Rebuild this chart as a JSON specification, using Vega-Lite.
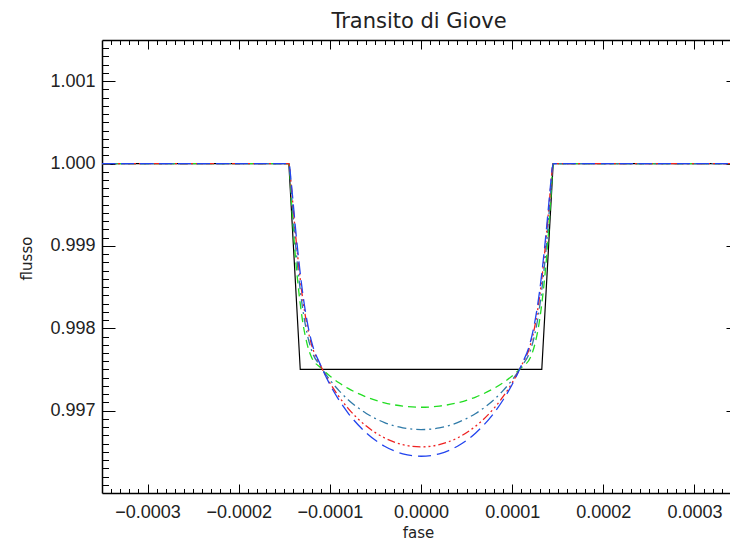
{
  "$schema": "https://vega.github.io/schema/vega-lite/v6.json",
  "width": 628,
  "height": 453,
  "autosize": {"type": "none"},
  "padding": {"left": 102, "top": 40, "right": 0, "bottom": 48},
  "background": "white",
  "title": {"text": "Transito di Giove", "anchor": "middle", "frame": "group", "font": "DejaVu Sans", "fontSize": 21, "fontWeight": "normal", "color": "#222222", "offset": 8, "dx": 3},
  "config": {
    "view": {"stroke": null},
    "axis": {"grid": false, "domainColor": "#000000", "domainWidth": 1.5, "tickColor": "#000000", "tickWidth": 1, "labelFont": "Liberation Sans", "labelFontSize": 18, "labelColor": "#222222", "titleFont": "DejaVu Sans", "titleFontSize": 15, "titleFontWeight": "normal", "titleColor": "#222222"}
  },
  "resolve": {"axis": {"x": "independent", "y": "independent"}},
  "datasets": {
    "nero": [
      {"x": -0.00035, "y": 1}, {"x": -0.000145, "y": 1}, {"x": -0.0001325, "y": 0.9975},
      {"x": 0.0001325, "y": 0.9975}, {"x": 0.000145, "y": 1}, {"x": 0.00035, "y": 1}
    ],
    "curve": [
      {"s": "verde", "x": -0.00035, "y": 1}, {"s": "verde", "x": -0.000145, "y": 1}, {"s": "verde", "x": -0.0001425, "y": 0.999596}, {"s": "verde", "x": -0.00014, "y": 0.999185}, {"s": "verde", "x": -0.0001375, "y": 0.998829}, {"s": "verde", "x": -0.000135, "y": 0.998541}, {"s": "verde", "x": -0.00013, "y": 0.998093}, {"s": "verde", "x": -0.000125, "y": 0.997811}, {"s": "verde", "x": -0.00012, "y": 0.997645}, {"s": "verde", "x": -0.00011, "y": 0.997521}, {"s": "verde", "x": -0.0001, "y": 0.997421}, {"s": "verde", "x": -0.00009, "y": 0.997338}, {"s": "verde", "x": -0.00008, "y": 0.99727}, {"s": "verde", "x": -0.00006, "y": 0.997165}, {"s": "verde", "x": -0.00004, "y": 0.997095}, {"s": "verde", "x": -0.00002, "y": 0.997055}, {"s": "verde", "x": 0, "y": 0.997041},
      {"s": "verde", "x": 0.00002, "y": 0.997055}, {"s": "verde", "x": 0.00004, "y": 0.997095}, {"s": "verde", "x": 0.00006, "y": 0.997165}, {"s": "verde", "x": 0.00008, "y": 0.99727}, {"s": "verde", "x": 0.00009, "y": 0.997338}, {"s": "verde", "x": 0.0001, "y": 0.997421}, {"s": "verde", "x": 0.00011, "y": 0.997521}, {"s": "verde", "x": 0.00012, "y": 0.997645}, {"s": "verde", "x": 0.000125, "y": 0.997811}, {"s": "verde", "x": 0.00013, "y": 0.998093}, {"s": "verde", "x": 0.000135, "y": 0.998541}, {"s": "verde", "x": 0.0001375, "y": 0.998829}, {"s": "verde", "x": 0.00014, "y": 0.999185}, {"s": "verde", "x": 0.0001425, "y": 0.999596}, {"s": "verde", "x": 0.000145, "y": 1}, {"s": "verde", "x": 0.00035, "y": 1},
      {"s": "ciano", "x": -0.00035, "y": 1}, {"s": "ciano", "x": -0.000145, "y": 1}, {"s": "ciano", "x": -0.0001425, "y": 0.999682}, {"s": "ciano", "x": -0.00014, "y": 0.999324}, {"s": "ciano", "x": -0.0001375, "y": 0.998994}, {"s": "ciano", "x": -0.000135, "y": 0.998713}, {"s": "ciano", "x": -0.00013, "y": 0.998251}, {"s": "ciano", "x": -0.000125, "y": 0.997936}, {"s": "ciano", "x": -0.00012, "y": 0.997731}, {"s": "ciano", "x": -0.00011, "y": 0.997533}, {"s": "ciano", "x": -0.0001, "y": 0.997374}, {"s": "ciano", "x": -0.00009, "y": 0.997243}, {"s": "ciano", "x": -0.00008, "y": 0.997133}, {"s": "ciano", "x": -0.00006, "y": 0.996966}, {"s": "ciano", "x": -0.00004, "y": 0.996855}, {"s": "ciano", "x": -0.00002, "y": 0.996791}, {"s": "ciano", "x": 0, "y": 0.99677},
      {"s": "ciano", "x": 0.00002, "y": 0.996791}, {"s": "ciano", "x": 0.00004, "y": 0.996855}, {"s": "ciano", "x": 0.00006, "y": 0.996966}, {"s": "ciano", "x": 0.00008, "y": 0.997133}, {"s": "ciano", "x": 0.00009, "y": 0.997243}, {"s": "ciano", "x": 0.0001, "y": 0.997374}, {"s": "ciano", "x": 0.00011, "y": 0.997533}, {"s": "ciano", "x": 0.00012, "y": 0.997731}, {"s": "ciano", "x": 0.000125, "y": 0.997936}, {"s": "ciano", "x": 0.00013, "y": 0.998251}, {"s": "ciano", "x": 0.000135, "y": 0.998713}, {"s": "ciano", "x": 0.0001375, "y": 0.998994}, {"s": "ciano", "x": 0.00014, "y": 0.999324}, {"s": "ciano", "x": 0.0001425, "y": 0.999682}, {"s": "ciano", "x": 0.000145, "y": 1}, {"s": "ciano", "x": 0.00035, "y": 1},
      {"s": "rosso", "x": -0.00035, "y": 1}, {"s": "rosso", "x": -0.000145, "y": 1}, {"s": "rosso", "x": -0.0001425, "y": 0.999749}, {"s": "rosso", "x": -0.00014, "y": 0.999431}, {"s": "rosso", "x": -0.0001375, "y": 0.999121}, {"s": "rosso", "x": -0.000135, "y": 0.998846}, {"s": "rosso", "x": -0.00013, "y": 0.998374}, {"s": "rosso", "x": -0.000125, "y": 0.998033}, {"s": "rosso", "x": -0.00012, "y": 0.997797}, {"s": "rosso", "x": -0.00011, "y": 0.997543}, {"s": "rosso", "x": -0.0001, "y": 0.997338}, {"s": "rosso", "x": -0.00009, "y": 0.997169}, {"s": "rosso", "x": -0.00008, "y": 0.997028}, {"s": "rosso", "x": -0.00006, "y": 0.996812}, {"s": "rosso", "x": -0.00004, "y": 0.996669}, {"s": "rosso", "x": -0.00002, "y": 0.996587}, {"s": "rosso", "x": 0, "y": 0.99656},
      {"s": "rosso", "x": 0.00002, "y": 0.996587}, {"s": "rosso", "x": 0.00004, "y": 0.996669}, {"s": "rosso", "x": 0.00006, "y": 0.996812}, {"s": "rosso", "x": 0.00008, "y": 0.997028}, {"s": "rosso", "x": 0.00009, "y": 0.997169}, {"s": "rosso", "x": 0.0001, "y": 0.997338}, {"s": "rosso", "x": 0.00011, "y": 0.997543}, {"s": "rosso", "x": 0.00012, "y": 0.997797}, {"s": "rosso", "x": 0.000125, "y": 0.998033}, {"s": "rosso", "x": 0.00013, "y": 0.998374}, {"s": "rosso", "x": 0.000135, "y": 0.998846}, {"s": "rosso", "x": 0.0001375, "y": 0.999121}, {"s": "rosso", "x": 0.00014, "y": 0.999431}, {"s": "rosso", "x": 0.0001425, "y": 0.999749}, {"s": "rosso", "x": 0.000145, "y": 1}, {"s": "rosso", "x": 0.00035, "y": 1},
      {"s": "blu", "x": -0.00035, "y": 1}, {"s": "blu", "x": -0.000145, "y": 1}, {"s": "blu", "x": -0.0001425, "y": 0.999785}, {"s": "blu", "x": -0.00014, "y": 0.99949}, {"s": "blu", "x": -0.0001375, "y": 0.999191}, {"s": "blu", "x": -0.000135, "y": 0.998918}, {"s": "blu", "x": -0.00013, "y": 0.998441}, {"s": "blu", "x": -0.000125, "y": 0.998086}, {"s": "blu", "x": -0.00012, "y": 0.997833}, {"s": "blu", "x": -0.00011, "y": 0.997548}, {"s": "blu", "x": -0.0001, "y": 0.997318}, {"s": "blu", "x": -0.00009, "y": 0.997129}, {"s": "blu", "x": -0.00008, "y": 0.996971}, {"s": "blu", "x": -0.00006, "y": 0.996729}, {"s": "blu", "x": -0.00004, "y": 0.996568}, {"s": "blu", "x": -0.00002, "y": 0.996476}, {"s": "blu", "x": 0, "y": 0.996446},
      {"s": "blu", "x": 0.00002, "y": 0.996476}, {"s": "blu", "x": 0.00004, "y": 0.996568}, {"s": "blu", "x": 0.00006, "y": 0.996729}, {"s": "blu", "x": 0.00008, "y": 0.996971}, {"s": "blu", "x": 0.00009, "y": 0.997129}, {"s": "blu", "x": 0.0001, "y": 0.997318}, {"s": "blu", "x": 0.00011, "y": 0.997548}, {"s": "blu", "x": 0.00012, "y": 0.997833}, {"s": "blu", "x": 0.000125, "y": 0.998086}, {"s": "blu", "x": 0.00013, "y": 0.998441}, {"s": "blu", "x": 0.000135, "y": 0.998918}, {"s": "blu", "x": 0.0001375, "y": 0.999191}, {"s": "blu", "x": 0.00014, "y": 0.99949}, {"s": "blu", "x": 0.0001425, "y": 0.999785}, {"s": "blu", "x": 0.000145, "y": 1}, {"s": "blu", "x": 0.00035, "y": 1}
    ]
  },
  "layer": [
    {
      "data": {"name": "nero"},
      "mark": {"type": "line", "color": "#000000", "strokeWidth": 1.2, "clip": true},
      "encoding": {
        "x": {"field": "x", "type": "quantitative", "scale": {"domain": [-0.00035, 0.000339], "nice": false, "zero": false},
          "axis": {"orient": "bottom", "values": [-0.0003, -0.0002, -0.0001, 0, 0.0001, 0.0002, 0.0003], "format": ".4f", "ticks": false, "domain": true, "labelPadding": 10, "labelFlush": false, "labelOverlap": false, "title": "fase", "titleX": 316, "titleY": 44, "titleBaseline": "alphabetic"}},
        "y": {"field": "y", "type": "quantitative", "scale": {"domain": [0.996, 1.0015], "nice": false, "zero": false},
          "axis": {"orient": "left", "values": [0.997, 0.998, 0.999, 1, 1.001], "format": ".3f", "ticks": false, "domain": true, "labelPadding": 7, "labelFlush": false, "labelOverlap": false, "title": "flusso", "titleX": -71, "titleY": 218, "titleBaseline": "alphabetic"}}
      }
    },
    {
      "data": {"name": "nero"},
      "mark": {"type": "point", "opacity": 0},
      "encoding": {
        "x": {"field": "x", "type": "quantitative", "scale": {"domain": [-0.00035, 0.000339], "nice": false, "zero": false},
          "axis": {"orient": "bottom", "values": [-0.0003, -0.0002, -0.0001, 0, 0.0001, 0.0002, 0.0003], "labels": false, "domain": false, "tickSize": -9, "title": null}},
        "y": {"field": "y", "type": "quantitative", "scale": {"domain": [0.996, 1.0015], "nice": false, "zero": false},
          "axis": {"orient": "left", "values": [0.997, 0.998, 0.999, 1, 1.001], "labels": false, "domain": false, "tickSize": -13, "title": null}}
      }
    },
    {
      "data": {"name": "nero"},
      "mark": {"type": "point", "opacity": 0},
      "encoding": {
        "x": {"field": "x", "type": "quantitative", "scale": {"domain": [-0.00035, 0.000339], "nice": false, "zero": false},
          "axis": {"orient": "bottom", "values": [-0.00034, -0.00033, -0.00032, -0.00031, -0.00029, -0.00028, -0.00027, -0.00026, -0.00025, -0.00024, -0.00023, -0.00022, -0.00021, -0.00019, -0.00018, -0.00017, -0.00016, -0.00015, -0.00014, -0.00013, -0.00012, -0.00011, -0.00009, -0.00008, -0.00007, -0.00006, -0.00005, -0.00004, -0.00003, -0.00002, -0.00001, 0.00001, 0.00002, 0.00003, 0.00004, 0.00005, 0.00006, 0.00007, 0.00008, 0.00009, 0.00011, 0.00012, 0.00013, 0.00014, 0.00015, 0.00016, 0.00017, 0.00018, 0.00019, 0.00021, 0.00022, 0.00023, 0.00024, 0.00025, 0.00026, 0.00027, 0.00028, 0.00029, 0.00031, 0.00032, 0.00033], "labels": false, "domain": false, "tickSize": -4.5, "title": null}},
        "y": {"field": "y", "type": "quantitative", "scale": {"domain": [0.996, 1.0015], "nice": false, "zero": false},
          "axis": {"orient": "left", "values": [0.9961, 0.9962, 0.9963, 0.9964, 0.9965, 0.9966, 0.9967, 0.9968, 0.9969, 0.9971, 0.9972, 0.9973, 0.9974, 0.9975, 0.9976, 0.9977, 0.9978, 0.9979, 0.9981, 0.9982, 0.9983, 0.9984, 0.9985, 0.9986, 0.9987, 0.9988, 0.9989, 0.9991, 0.9992, 0.9993, 0.9994, 0.9995, 0.9996, 0.9997, 0.9998, 0.9999, 1.0001, 1.0002, 1.0003, 1.0004, 1.0005, 1.0006, 1.0007, 1.0008, 1.0009, 1.0011, 1.0012, 1.0013, 1.0014], "labels": false, "domain": false, "tickSize": -6.5, "title": null}}
      }
    },
    {
      "data": {"name": "nero"},
      "mark": {"type": "point", "opacity": 0},
      "encoding": {
        "x": {"field": "x", "type": "quantitative", "scale": {"domain": [-0.00035, 0.000339], "nice": false, "zero": false},
          "axis": {"orient": "top", "values": [-0.0003, -0.0002, -0.0001, 0, 0.0001, 0.0002, 0.0003], "labels": false, "domain": true, "tickSize": -9, "title": null}},
        "y": {"field": "y", "type": "quantitative", "scale": {"domain": [0.996, 1.0015], "nice": false, "zero": false},
          "axis": {"orient": "right", "offset": 9, "values": [0.997, 0.998, 0.999, 1, 1.001], "labels": false, "domain": true, "tickSize": -13, "title": null}}
      }
    },
    {
      "data": {"name": "nero"},
      "mark": {"type": "point", "opacity": 0},
      "encoding": {
        "x": {"field": "x", "type": "quantitative", "scale": {"domain": [-0.00035, 0.000339], "nice": false, "zero": false},
          "axis": {"orient": "top", "values": [-0.00034, -0.00033, -0.00032, -0.00031, -0.00029, -0.00028, -0.00027, -0.00026, -0.00025, -0.00024, -0.00023, -0.00022, -0.00021, -0.00019, -0.00018, -0.00017, -0.00016, -0.00015, -0.00014, -0.00013, -0.00012, -0.00011, -0.00009, -0.00008, -0.00007, -0.00006, -0.00005, -0.00004, -0.00003, -0.00002, -0.00001, 0.00001, 0.00002, 0.00003, 0.00004, 0.00005, 0.00006, 0.00007, 0.00008, 0.00009, 0.00011, 0.00012, 0.00013, 0.00014, 0.00015, 0.00016, 0.00017, 0.00018, 0.00019, 0.00021, 0.00022, 0.00023, 0.00024, 0.00025, 0.00026, 0.00027, 0.00028, 0.00029, 0.00031, 0.00032, 0.00033], "labels": false, "domain": false, "tickSize": -4.5, "title": null}},
        "y": {"field": "y", "type": "quantitative", "scale": {"domain": [0.996, 1.0015], "nice": false, "zero": false},
          "axis": {"orient": "right", "offset": 9, "values": [0.9961, 0.9962, 0.9963, 0.9964, 0.9965, 0.9966, 0.9967, 0.9968, 0.9969, 0.9971, 0.9972, 0.9973, 0.9974, 0.9975, 0.9976, 0.9977, 0.9978, 0.9979, 0.9981, 0.9982, 0.9983, 0.9984, 0.9985, 0.9986, 0.9987, 0.9988, 0.9989, 0.9991, 0.9992, 0.9993, 0.9994, 0.9995, 0.9996, 0.9997, 0.9998, 0.9999, 1.0001, 1.0002, 1.0003, 1.0004, 1.0005, 1.0006, 1.0007, 1.0008, 1.0009, 1.0011, 1.0012, 1.0013, 1.0014], "labels": false, "domain": false, "tickSize": -6.5, "title": null}}
      }
    },
    {
      "data": {"name": "curve"},
      "mark": {"type": "line", "strokeWidth": 1.3, "clip": true, "interpolate": "monotone"},
      "encoding": {
        "x": {"field": "x", "type": "quantitative", "scale": {"domain": [-0.00035, 0.000339], "nice": false, "zero": false}, "axis": null},
        "y": {"field": "y", "type": "quantitative", "scale": {"domain": [0.996, 1.0015], "nice": false, "zero": false}, "axis": null},
        "color": {"field": "s", "type": "nominal", "scale": {"domain": ["verde", "ciano", "rosso", "blu"], "range": ["#22dd22", "#2f7aa8", "#ee2222", "#2244ee"]}, "legend": null},
        "strokeDash": {"field": "s", "type": "nominal", "scale": {"domain": ["verde", "ciano", "rosso", "blu"], "range": [[8, 5], [9, 4, 2, 4], [8, 3, 2, 3, 2, 3, 2, 3], [13, 6]]}, "legend": null}
      }
    }
  ]
}
